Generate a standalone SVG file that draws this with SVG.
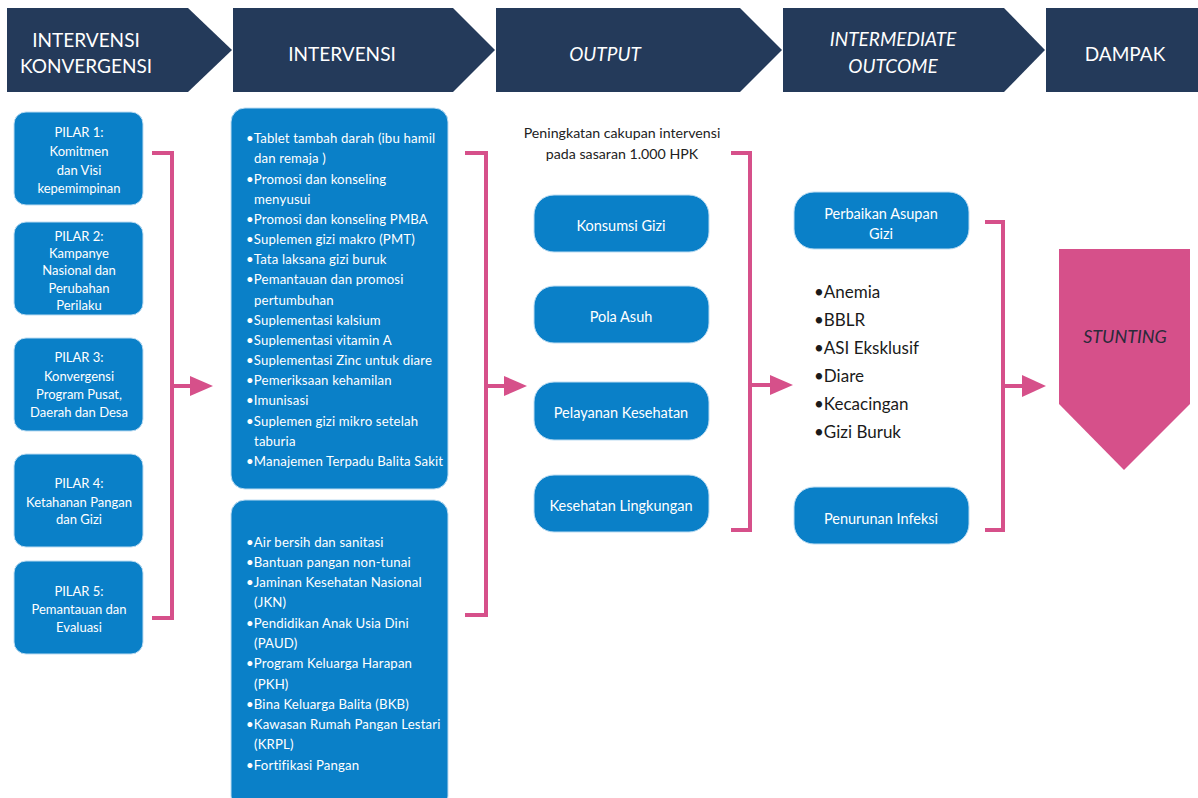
<svg xmlns="http://www.w3.org/2000/svg" width="1198" height="798" viewBox="0 0 1198 798">
<defs>
<style>
.hdr{fill:#243a5a}
.ht{fill:#ffffff;font-family:Lato,"Liberation Sans",sans-serif;font-size:19px;text-anchor:middle}
.hti{fill:#ffffff;font-family:Lato,"Liberation Sans",sans-serif;font-size:19px;text-anchor:middle;font-style:italic}
.box{fill:#0a80c8;stroke:#bcdcf2;stroke-width:1}
.bt{fill:#ffffff;font-family:Lato,"Liberation Sans",sans-serif;font-size:13px;text-anchor:middle}
.lt{fill:#ffffff;font-family:Lato,"Liberation Sans",sans-serif;font-size:13.2px;letter-spacing:0.15px}
.ot{fill:#ffffff;font-family:Lato,"Liberation Sans",sans-serif;font-size:14.5px;text-anchor:middle}
.dk{fill:#222222;font-family:Lato,"Liberation Sans",sans-serif;font-size:14.2px;text-anchor:middle}
.bl{fill:#1a1a1a;font-family:Lato,"Liberation Sans",sans-serif;font-size:17px}
.br{fill:none;stroke:#d6508a;stroke-width:4}
.ah{fill:#d6508a}
</style>
</defs>
<rect x="0" y="0" width="1198" height="798" fill="#ffffff"/>

<g id="header-konvergensi">
<polygon class="hdr" points="7,8 188,8 232,50 188,92 7,92"/>
<text class="ht" x="86" y="47">INTERVENSI</text>
<text class="ht" x="86" y="73">KONVERGENSI</text>
</g>
<g id="header-intervensi">
<polygon class="hdr" points="233,8 453,8 495,50 453,92 233,92"/>
<text class="ht" x="342" y="61">INTERVENSI</text>
</g>
<g id="header-output">
<polygon class="hdr" points="496,8 740,8 782,50 740,92 496,92"/>
<text class="hti" x="605" y="61">OUTPUT</text>
</g>
<g id="header-intermediate">
<polygon class="hdr" points="783,8 1004,8 1045,50 1004,92 783,92"/>
<text class="hti" x="893" y="46">INTERMEDIATE</text>
<text class="hti" x="893" y="73">OUTCOME</text>
</g>
<g id="header-dampak">
<rect class="hdr" x="1046" y="8" width="152" height="84"/>
<text class="ht" x="1125" y="61">DAMPAK</text>
</g>

<g id="pilar1">
<rect class="box" x="14" y="112" width="129" height="93" rx="12"/>
<text class="bt" x="79" y="137">PILAR 1:</text>
<text class="bt" x="79" y="156">Komitmen</text>
<text class="bt" x="79" y="175">dan Visi</text>
<text class="bt" x="79" y="193">kepemimpinan</text>
</g>
<g id="pilar2">
<rect class="box" x="14" y="222" width="129" height="93" rx="12"/>
<text class="bt" x="79" y="241">PILAR 2:</text>
<text class="bt" x="79" y="258">Kampanye</text>
<text class="bt" x="79" y="275">Nasional dan</text>
<text class="bt" x="79" y="293">Perubahan</text>
<text class="bt" x="79" y="310">Perilaku</text>
</g>
<g id="pilar3">
<rect class="box" x="14" y="338" width="129" height="93" rx="12"/>
<text class="bt" x="79" y="362">PILAR 3:</text>
<text class="bt" x="79" y="381">Konvergensi</text>
<text class="bt" x="79" y="399">Program Pusat,</text>
<text class="bt" x="79" y="417">Daerah dan Desa</text>
</g>
<g id="pilar4">
<rect class="box" x="14" y="454" width="129" height="93" rx="12"/>
<text class="bt" x="79" y="488">PILAR 4:</text>
<text class="bt" x="79" y="507">Ketahanan Pangan</text>
<text class="bt" x="79" y="524">dan Gizi</text>
</g>
<g id="pilar5">
<rect class="box" x="14" y="561" width="129" height="93" rx="12"/>
<text class="bt" x="79" y="596">PILAR 5:</text>
<text class="bt" x="79" y="614">Pemantauan dan</text>
<text class="bt" x="79" y="632">Evaluasi</text>
</g>

<g id="intervensi-spesifik">
<rect class="box" x="231" y="108" width="217" height="381" rx="14"/>
<text class="lt" x="246" y="143">•Tablet tambah darah (ibu hamil</text>
<text class="lt" x="254" y="163">dan remaja )</text>
<text class="lt" x="246" y="184">•Promosi dan konseling</text>
<text class="lt" x="254" y="204">menyusui</text>
<text class="lt" x="246" y="224">•Promosi dan konseling PMBA</text>
<text class="lt" x="246" y="244">•Suplemen gizi makro (PMT)</text>
<text class="lt" x="246" y="264">•Tata laksana gizi buruk</text>
<text class="lt" x="246" y="284">•Pemantauan dan promosi</text>
<text class="lt" x="254" y="305">pertumbuhan</text>
<text class="lt" x="246" y="325">•Suplementasi kalsium</text>
<text class="lt" x="246" y="345">•Suplementasi vitamin A</text>
<text class="lt" x="246" y="365">•Suplementasi Zinc untuk diare</text>
<text class="lt" x="246" y="385">•Pemeriksaan kehamilan</text>
<text class="lt" x="246" y="405">•Imunisasi</text>
<text class="lt" x="246" y="426">•Suplemen gizi mikro setelah</text>
<text class="lt" x="254" y="446">taburia</text>
<text class="lt" x="246" y="466">•Manajemen Terpadu Balita Sakit</text>
</g>
<g id="intervensi-sensitif">
<rect class="box" x="231" y="500" width="217" height="310" rx="14"/>
<text class="lt" x="246" y="547">•Air bersih dan sanitasi</text>
<text class="lt" x="246" y="567">•Bantuan pangan non-tunai</text>
<text class="lt" x="246" y="587">•Jaminan Kesehatan Nasional</text>
<text class="lt" x="254" y="607">(JKN)</text>
<text class="lt" x="246" y="628">•Pendidikan Anak Usia Dini</text>
<text class="lt" x="254" y="648">(PAUD)</text>
<text class="lt" x="246" y="668">•Program Keluarga Harapan</text>
<text class="lt" x="254" y="689">(PKH)</text>
<text class="lt" x="246" y="709">•Bina Keluarga Balita (BKB)</text>
<text class="lt" x="246" y="729">•Kawasan Rumah Pangan Lestari</text>
<text class="lt" x="254" y="749">(KRPL)</text>
<text class="lt" x="246" y="770">•Fortifikasi Pangan</text>
</g>

<g id="output-caption">
<text class="dk" x="622" y="138">Peningkatan cakupan intervensi</text>
<text class="dk" x="622" y="159">pada sasaran 1.000 HPK</text>
</g>
<g id="konsumsi-gizi">
<rect class="box" x="534" y="195" width="175" height="57" rx="20"/>
<text class="ot" x="621" y="231">Konsumsi Gizi</text>
</g>
<g id="pola-asuh">
<rect class="box" x="534" y="286" width="175" height="57" rx="20"/>
<text class="ot" x="621" y="322">Pola Asuh</text>
</g>
<g id="pelayanan-kesehatan">
<rect class="box" x="534" y="382" width="175" height="58" rx="20"/>
<text class="ot" x="621" y="418">Pelayanan Kesehatan</text>
</g>
<g id="kesehatan-lingkungan">
<rect class="box" x="534" y="475" width="175" height="57" rx="20"/>
<text class="ot" x="621" y="511">Kesehatan Lingkungan</text>
</g>

<g id="perbaikan-asupan">
<rect class="box" x="794" y="192" width="175" height="57" rx="20"/>
<text class="ot" x="881" y="219">Perbaikan Asupan</text>
<text class="ot" x="881" y="239">Gizi</text>
</g>
<g id="outcome-list">
<text class="bl" x="814" y="298">•Anemia</text>
<text class="bl" x="814" y="326">•BBLR</text>
<text class="bl" x="814" y="354">•ASI Eksklusif</text>
<text class="bl" x="814" y="382">•Diare</text>
<text class="bl" x="814" y="410">•Kecacingan</text>
<text class="bl" x="814" y="438">•Gizi Buruk</text>
</g>
<g id="penurunan-infeksi">
<rect class="box" x="794" y="487" width="175" height="57" rx="20"/>
<text class="ot" x="881" y="524">Penurunan Infeksi</text>
</g>

<g id="stunting">
<polygon points="1059,249 1190,249 1190,404 1124,470 1059,404" fill="#d6508a"/>
<text x="1125" y="343" fill="#2a2a3a" font-family="Lato,'Liberation Sans',sans-serif" font-size="18" font-style="italic" text-anchor="middle">STUNTING</text>
</g>

<g id="connectors">
<polyline class="br" points="152,153 172,153 172,618 152,618"/>
<line class="br" x1="172" y1="386" x2="192" y2="386"/>
<polygon class="ah" points="190,376 213,386 190,396"/>

<polyline class="br" points="465,153 486,153 486,615 465,615"/>
<line class="br" x1="486" y1="386" x2="506" y2="386"/>
<polygon class="ah" points="504,376 527,386 504,396"/>

<polyline class="br" points="731,153 750,153 750,530 731,530"/>
<line class="br" x1="750" y1="385" x2="772" y2="385"/>
<polygon class="ah" points="770,375 793,385 770,395"/>

<polyline class="br" points="985,222 1003,222 1003,530 985,530"/>
<line class="br" x1="1003" y1="386" x2="1024" y2="386"/>
<polygon class="ah" points="1022,375 1046,386 1022,397"/>
</g>
</svg>
